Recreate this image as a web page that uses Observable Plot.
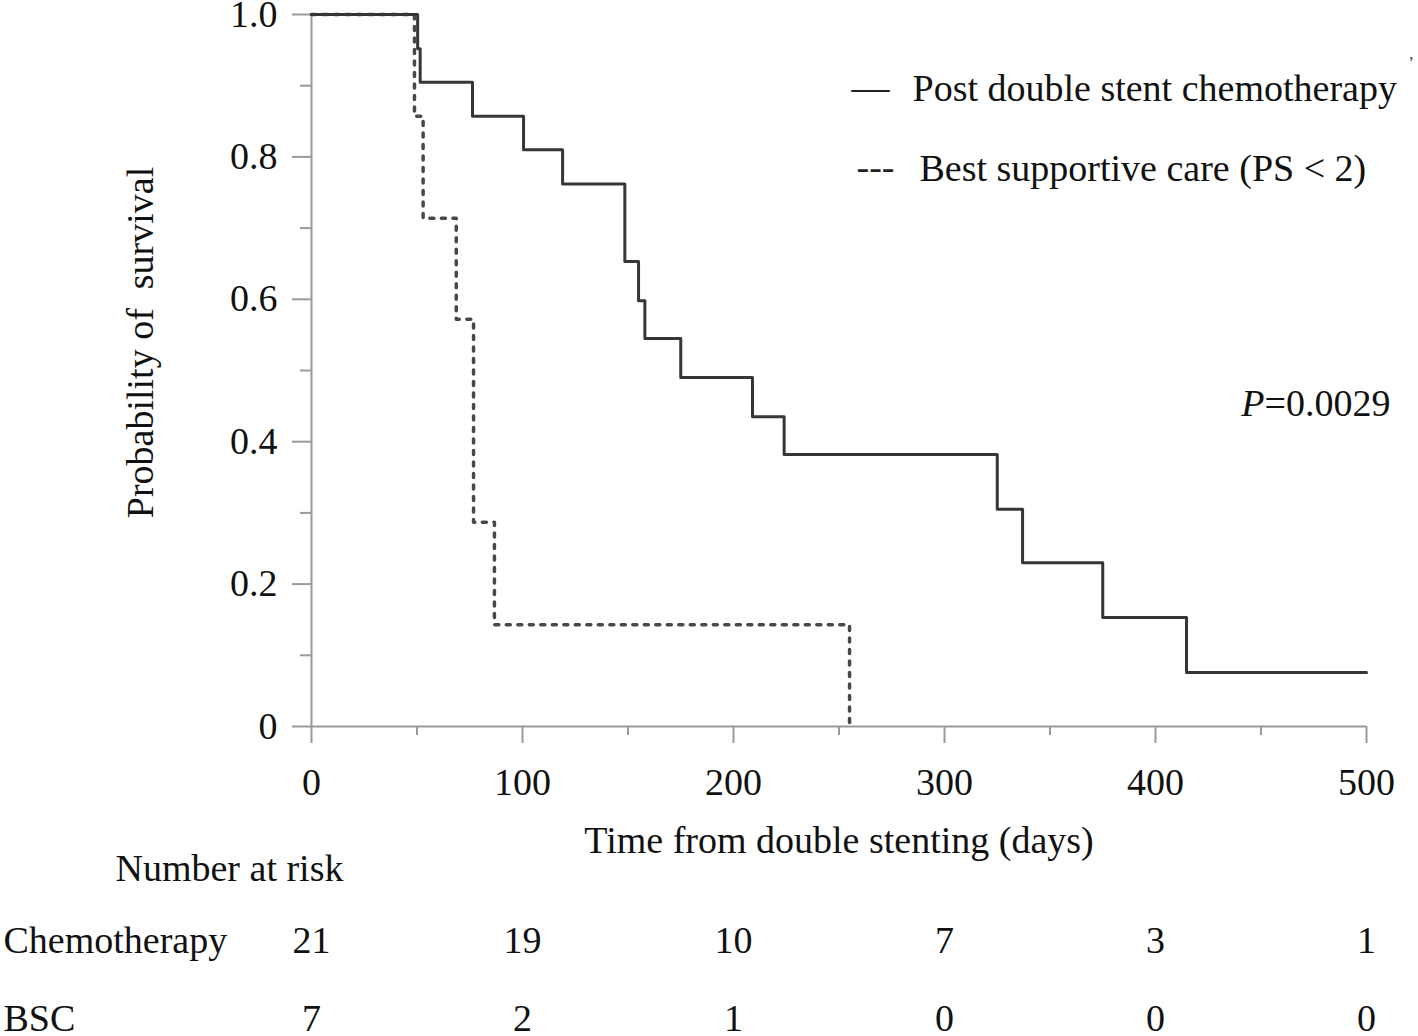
<!DOCTYPE html>
<html><head><meta charset="utf-8">
<script src="https://cdn.jsdelivr.net/npm/d3@7"></script>
<script src="https://cdn.jsdelivr.net/npm/@observablehq/plot@0.6"></script>
<style>body{margin:0;background:#fff;} svg text{white-space:pre;}</style>
</head><body><div id="chart"></div>
<script>
// Kaplan–Meier step points (time in days, survival probability from that time on)
const chemoTime = [0, 50.3, 51.5, 76.3, 100.5, 119, 148.5, 155, 158, 175, 209, 224, 325, 337, 375, 414.7, 500];
const chemoSurv = [1.0, 0.952, 0.905, 0.857, 0.810, 0.762, 0.653, 0.598, 0.545, 0.490, 0.435, 0.382, 0.305, 0.230, 0.153, 0.076, 0.076];
const bscTime = [0, 48.8, 52.9, 68.6, 76.8, 86.7, 255];
const bscSurv = [1.0, 0.857, 0.714, 0.572, 0.287, 0.143, 0.0];

// axis ticks
const xMajor = [0, 100, 200, 300, 400, 500];
const xMinor = [50, 150, 250, 350, 450];
const yMajor = [0, 0.2, 0.4, 0.6, 0.8, 1.0];
const yMinor = [0.1, 0.3, 0.5, 0.7, 0.9];

// number at risk
const riskTimes = [0, 100, 200, 300, 400, 500];
const chemoRisk = [21, 19, 10, 7, 3, 1];
const bscRisk = [7, 2, 1, 0, 0, 0];

const legendLabels = ["Post double stent chemotherapy", "Best supportive care (PS < 2)"];
const pValue = "=0.0029";

const chemo = chemoTime.map((t, i) => ({t, s: chemoSurv[i]}));
const bsc = bscTime.map((t, i) => ({t, s: bscSurv[i]}));

const FONT = "'Liberation Serif', 'Times New Roman', serif";
const FS = 38;
const AX = "#9a9a9a";
const T = {fontSize: FS, fill: "#111", lineAnchor: "middle"};

const plot = Plot.plot({
  width: 1418, height: 1036,
  marginLeft: 311, marginRight: 52, marginTop: 14, marginBottom: 310,
  style: {fontFamily: FONT, fontSize: FS + "px", color: "#111", background: "#fff", overflow: "visible"},
  x: {domain: [0, 500]},
  y: {domain: [0, 1]},
  marks: [
    Plot.axisX({ticks: xMinor, tickSize: 9, text: null, stroke: AX, strokeWidth: 2, label: null}),
    Plot.axisX({ticks: xMajor, tickSize: 17, tickPadding: 25, stroke: AX, strokeWidth: 2, fill: "#111", fontSize: FS, tickFormat: d => String(d), label: null}),
    Plot.axisY({ticks: yMinor, tickSize: 11, text: null, stroke: AX, strokeWidth: 2, label: null}),
    Plot.axisY({ticks: yMajor, tickSize: 19, tickPadding: 15, stroke: AX, strokeWidth: 2, fill: "#111", fontSize: FS, tickFormat: d => d === 0 ? "0" : d.toFixed(1), label: null}),
    Plot.ruleY([0], {stroke: AX, strokeWidth: 2}),
    Plot.ruleX([0], {stroke: AX, strokeWidth: 2}),
    Plot.line(bsc, {x: "t", y: "s", curve: "step-after", stroke: "#484848", strokeWidth: 3.5, strokeDasharray: "4,7.5"}),
    Plot.line(chemo, {x: "t", y: "s", curve: "step-after", stroke: "#363636", strokeWidth: 3}),
    // axis titles
    Plot.text(["Time from double stenting (days)"], {...T, frameAnchor: "bottom", textAnchor: "middle", dy: 114}),
    Plot.text(["Probability of\u00a0 survival"], {...T, frameAnchor: "left", textAnchor: "middle", dx: -171, dy: -28, rotate: -90}),
    // legend
    Plot.text(["\u2014"], {...T, fill: "#222", frameAnchor: "top-left", textAnchor: "start", dx: 540, dy: 73}),
    Plot.text([legendLabels[0]], {...T, frameAnchor: "top-left", textAnchor: "start", dx: 601, dy: 74}),
    Plot.text(["---"], {...T, fill: "#222", frameAnchor: "top-left", textAnchor: "start", dx: 545, dy: 153}),
    Plot.text([legendLabels[1]], {...T, frameAnchor: "top-left", textAnchor: "start", dx: 608, dy: 154}),
    Plot.text(["\u02bc"], {...T, fontSize: 16, fill: "#333", frameAnchor: "top-right", textAnchor: "start", dx: 42, dy: 48}),
    // p-value
    Plot.text(["P"], {...T, frameAnchor: "top-right", textAnchor: "end", dx: -102, dy: 389, fontStyle: "italic"}),
    Plot.text([pValue], {...T, frameAnchor: "top-right", textAnchor: "end", dx: 24, dy: 389}),
    // number at risk
    Plot.text(["Number at risk"], {...T, frameAnchor: "bottom-left", textAnchor: "start", dx: -196, dy: 142}),
    Plot.text(["Chemotherapy"], {...T, frameAnchor: "bottom-left", textAnchor: "start", dx: -308, dy: 214}),
    Plot.text(["BSC"], {...T, frameAnchor: "bottom-left", textAnchor: "start", dx: -308, dy: 292}),
    Plot.text(riskTimes, {...T, x: d => d, text: (d, i) => String(chemoRisk[i]), frameAnchor: "bottom", textAnchor: "middle", dy: 214}),
    Plot.text(riskTimes, {...T, x: d => d, text: (d, i) => String(bscRisk[i]), frameAnchor: "bottom", textAnchor: "middle", dy: 292})
  ]
});
document.getElementById("chart").appendChild(plot);
</script>
</body></html>
